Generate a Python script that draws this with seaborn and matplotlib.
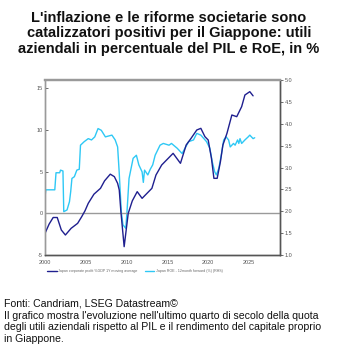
import matplotlib
matplotlib.use("Agg")
import matplotlib.pyplot as plt
import seaborn as sns
import pandas as pd
from matplotlib.lines import Line2D

sns.set_theme(style="white")
plt.rcParams['font.family'] = ['Liberation Sans', 'DejaVu Sans']

# Japan corporate profit %GDP, 1Y moving average (LHS)
profit_year = [2000.0, 2000.5, 2001.0, 2001.5, 2002.0, 2002.5, 2003.2, 2004.0, 2004.5, 2004.9,
               2005.3, 2006.0, 2006.8, 2007.3, 2008.0, 2008.5, 2008.9, 2009.1, 2009.3, 2009.7,
               2010.2, 2010.7, 2011.3, 2011.9, 2012.5, 2013.1, 2013.6, 2014.3, 2014.9, 2015.7,
               2016.6, 2017.3, 2017.9, 2018.6, 2019.1, 2019.6, 2020.0, 2020.4, 2020.7, 2021.1,
               2021.5, 2021.8, 2022.3, 2022.9, 2023.5, 2024.1, 2024.5, 2025.1, 2025.5]
profit_value = [-2.4, -1.3, -0.5, -0.5, -2.0, -2.6, -1.8, -1.2, -0.4, 0.3,
                1.2, 2.3, 3.0, 3.9, 4.7, 4.4, 3.6, 2.8, 0.2, -4.0,
                0.0, 1.5, 2.6, 1.8, 2.4, 3.0, 4.6, 5.8, 6.4, 7.2,
                6.0, 8.2, 9.0, 10.0, 10.2, 9.2, 8.8, 6.6, 4.2, 4.2,
                6.2, 8.2, 9.6, 11.8, 11.6, 12.8, 14.2, 14.6, 14.1]

# Japan ROE - 12month forward (%) (RHS)
roe_year = [2000.0, 2000.1, 2001.2, 2001.35, 2001.8, 2001.9, 2002.2, 2002.3, 2002.7, 2003.0,
            2003.15, 2003.3, 2003.6, 2003.9, 2004.2, 2004.35, 2004.8, 2005.3, 2005.7, 2006.1,
            2006.5, 2006.9, 2007.4, 2008.2, 2008.6, 2008.9, 2009.1, 2009.35, 2009.55, 2009.9,
            2010.05, 2010.3, 2010.8, 2011.2, 2011.5, 2011.9, 2012.05, 2012.2, 2012.6, 2012.9,
            2013.2, 2013.5, 2014.1, 2014.5, 2015.2, 2015.5, 2016.2, 2016.8, 2017.6, 2018.2,
            2018.6, 2019.1, 2019.8, 2020.2, 2020.5, 2020.8, 2021.0, 2021.3, 2021.6, 2021.9,
            2022.2, 2022.5, 2022.7, 2023.1, 2023.3, 2023.6, 2023.75, 2023.9, 2024.1, 2024.5,
            2024.9, 2025.1, 2025.5, 2025.7]
roe_value = [2.33, 2.49, 2.49, 2.88, 2.88, 2.94, 2.92, 1.99, 2.03, 2.22,
             2.45, 2.75, 2.79, 2.94, 2.96, 3.51, 3.59, 3.66, 3.63, 3.70,
             3.89, 3.85, 3.70, 3.74, 3.63, 3.47, 2.87, 1.99, 1.69, 1.61,
             1.99, 2.75, 3.21, 3.28, 3.06, 2.90, 2.66, 2.94, 2.83, 2.96,
             3.06, 3.28, 3.51, 3.55, 3.51, 3.55, 3.44, 3.32, 3.59, 3.63,
             3.78, 3.74, 3.59, 3.44, 3.13, 2.90, 2.83, 2.98, 3.28, 3.63,
             3.70, 3.63, 3.47, 3.55, 3.51, 3.63, 3.55, 3.66, 3.55, 3.63,
             3.70, 3.74, 3.66, 3.68]

x_ticks = [2000, 2005, 2010, 2015, 2020, 2025]
left_ticks = [-5, 0, 5, 10, 15]
right_ticks = [1.0, 1.5, 2.0, 2.5, 3.0, 3.5, 4.0, 4.5, 5.0]

profit_label = "Japan corporate profit %GDP 1Y moving average"
roe_label = "Japan ROE - 12month forward (%) (RHS)"

dark = "#1f1f8f"
light = "#2ec8f5"

df_p = pd.DataFrame({"year": profit_year, "value": profit_value})
df_r = pd.DataFrame({"year": roe_year, "value": roe_value})

fig = plt.figure(figsize=(3.38, 3.55), dpi=100)
ax = fig.add_axes([45/338, 1-255/355, 235/338, 175/355])
ax2 = ax.twinx()

ax.axhline(0, color="#9a9a9a", lw=1.0, zorder=1)
sns.lineplot(data=df_r, x="year", y="value", ax=ax2, color=light, lw=1.0, estimator=None, sort=False)
sns.lineplot(data=df_p, x="year", y="value", ax=ax, color=dark, lw=1.0, estimator=None, sort=False)
ax.set_zorder(ax2.get_zorder() + 1)
ax.patch.set_visible(False)

ax.set_xlim(2000, 2028.8)
ax.set_ylim(-5, 16.0)
ax2.set_ylim(1.0, 5.0)
ax.set_xticks(x_ticks)
ax.set_xticklabels([str(t) for t in x_ticks])
ax.set_yticks(left_ticks)
ax.set_yticklabels([str(t) for t in left_ticks])
ax2.set_yticks(right_ticks)
ax2.set_yticklabels([f"{t:.1f}" for t in right_ticks])
for a in (ax, ax2):
    a.set_xlabel("")
    a.set_ylabel("")
    a.grid(False)
ax.tick_params(axis="both", labelsize=4, colors="#555555", length=2, width=0.6, pad=1.5)
ax2.tick_params(axis="y", labelsize=4, colors="#555555", length=2, width=0.6, pad=1.5)
ax.tick_params(axis="y", direction="in")

for a in (ax, ax2):
    a.spines["top"].set_color("#9a9a9a")
    a.spines["top"].set_linewidth(1.6)
    a.spines["left"].set_color("#9a9a9a")
    a.spines["left"].set_linewidth(1.0)
    a.spines["bottom"].set_color("#555555")
    a.spines["bottom"].set_linewidth(1.0)
    a.spines["right"].set_color("#555555")
    a.spines["right"].set_linewidth(1.0)

handles = [Line2D([], [], color=dark, lw=1.0), Line2D([], [], color=light, lw=1.0)]
fig.legend(handles, [profit_label, roe_label], loc="center left",
           bbox_to_anchor=(44/338, 1-271/355), ncol=2, fontsize=2.6, frameon=False,
           handlelength=2.6, handletextpad=0.5, columnspacing=2.0, labelcolor="#666666")

fig.text(0.5, 1-11/355,
         "L'inflazione e le riforme societarie sono\ncatalizzatori positivi per il Giappone: utili\naziendali in percentuale del PIL e RoE, in %",
         ha="center", va="top", fontsize=10.5, fontweight="bold", color="#111111", linespacing=1.12)

fig.text(4/338, 1-299/355,
         "Fonti: Candriam, LSEG Datastream©\nIl grafico mostra l'evoluzione nell'ultimo quarto di secolo della quota\ndegli utili aziendali rispetto al PIL e il rendimento del capitale proprio\nin Giappone.",
         ha="left", va="top", fontsize=7.6, color="#111111", linespacing=1.2)

fig.savefig("out.png", dpi=100, facecolor="white")
